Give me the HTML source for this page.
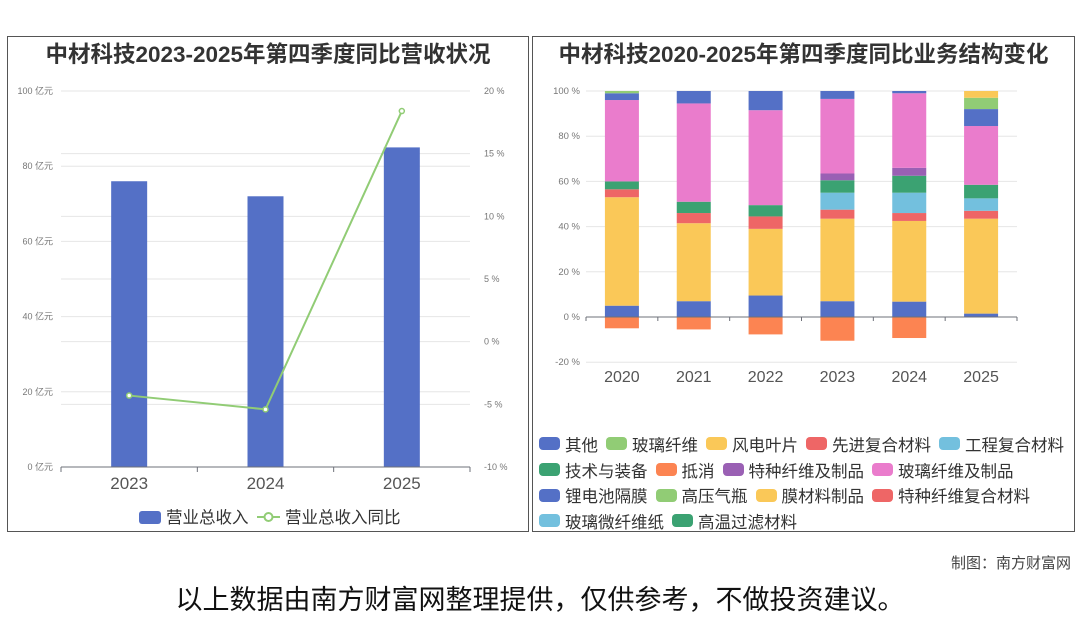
<!DOCTYPE html>
<html><head><meta charset="utf-8">
<style>
body{margin:0;width:1080px;height:614px;background:#fff;overflow:hidden;font-family:"Liberation Sans","Noto Sans CJK SC",sans-serif;}
.panel{position:absolute;border:1px solid #555;background:#fff;}
.title{position:absolute;left:0;right:0;top:0px;text-align:center;font-weight:bold;font-size:22.5px;color:#333;}
#legR{position:absolute;left:6px;top:394px;width:540px;display:flex;flex-wrap:wrap;font-size:16.5px;color:#333;}
.li{display:flex;align-items:center;height:25.7px;margin-right:8px;}
.sw{width:21px;height:13px;border-radius:4px;margin-right:5px;}
</style></head><body>
<div class="panel" style="left:7px;top:36px;width:520px;height:494px;">
<div class="title">中材科技2023-2025年第四季度同比营收状况</div>
</div>
<div class="panel" style="left:532px;top:36px;width:541px;height:494px;">
<div class="title">中材科技2020-2025年第四季度同比业务结构变化</div>
<div id="legR"></div>
</div>
<svg id="svg" width="1080" height="614" style="position:absolute;left:0;top:0"></svg>
<div style="position:absolute;right:9px;top:552px;font-size:15px;color:#444;">制图：南方财富网</div>
<div style="position:absolute;left:0;right:0;top:578px;text-align:center;font-size:27px;color:#111;">以上数据由南方财富网整理提供，仅供参考，不做投资建议。</div>
<script>
// Left chart data
const years1 = ['2023','2024','2025'];
const revenue = [76, 72, 85];
const yoy = [-4.3, -5.4, 18.4];
const leftTicks = [0,20,40,60,80,100];
const rightTicks = [-10,-5,0,5,10,15,20];
// Right chart data
const years2 = ['2020','2021','2022','2023','2024','2025'];
const segNames = ['其他','玻璃纤维','风电叶片','先进复合材料','工程复合材料','技术与装备','抵消','特种纤维及制品','玻璃纤维及制品','锂电池隔膜','高压气瓶','膜材料制品','特种纤维复合材料','玻璃微纤维纸','高温过滤材料'];
const segColors = ['#5470c6','#91cc75','#fac858','#ee6666','#73c0de','#3ba272','#fc8452','#9a60b4','#ea7ccc','#5470c6','#91cc75','#fac858','#ee6666','#73c0de','#3ba272'];
const sQita   = [5, 7, 9.5, 7, 6.8, 1.5];
const sBoxian = [0, 0, 0, 0, 0, 0];
const sFengdian=[48, 34.5, 29.5, 36.5, 35.7, 42];
const sXianjin= [3.5, 4.5, 5.5, 4, 3.5, 3.5];
const sGongcheng=[0, 0, 0, 7.5, 9, 5.5];
const sJishu  = [3.5, 5, 5, 5.5, 7.5, 6];
const sDixiao = [-5, -5.5, -7.7, -10.5, -9.3, 0];
const sTezhong= [0, 0, 0, 3, 3.5, 0];
const sBxzp   = [36, 43.5, 42, 33, 33, 26];
const sLidian = [3, 5.5, 8.5, 3.5, 1, 7.5];
const sGaoya  = [1, 0, 0, 0, 0, 5];
const sMocl   = [0, 0, 0, 0, 0, 3];
const sTzfh   = [0,0,0,0,0,0];
const sWxwz   = [0,0,0,0,0,0];
const sGwgl   = [0,0,0,0,0,0];
const segData = [sQita,sBoxian,sFengdian,sXianjin,sGongcheng,sJishu,sDixiao,sTezhong,sBxzp,sLidian,sGaoya,sMocl,sTzfh,sWxwz,sGwgl];
const rTicks = [-20,0,20,40,60,80,100];

const NS='http://www.w3.org/2000/svg';
const svg=document.getElementById('svg');
function mk(tag,attrs,parent){const e=document.createElementNS(NS,tag);for(const k in attrs)e.setAttribute(k,attrs[k]);(parent||svg).appendChild(e);return e;}
function txt(s,attrs){const t=mk('text',Object.assign({'font-family':'Liberation Sans, Noto Sans CJK SC, sans-serif'},attrs));t.textContent=s;return t;}

// ---- Left chart
const L={x0:61,x1:470,yTop:91,yBot:467};
const yL=v=>L.yBot-(v/100)*(L.yBot-L.yTop);
const yR=v=>L.yBot-((v+10)/30)*(L.yBot-L.yTop);
const bw=(L.x1-L.x0)/years1.length;
const xL=i=>L.x0+bw*(i+0.5);
rightTicks.forEach(t=>{const g=mk('line',{x1:L.x0,x2:L.x1,y1:yR(t),y2:yR(t),stroke:'#e6e6e6'});

const l=txt(t+' %',{x:484,y:yR(t)+3,'font-size':9,fill:'#777'});
});
leftTicks.forEach(t=>{const g=mk('line',{x1:L.x0,x2:L.x1,y1:yL(t),y2:yL(t),stroke:'#e6e6e6'});

const l=txt(t+' 亿元',{x:53,y:yL(t)+3,'font-size':9,fill:'#777','text-anchor':'end'});
});
revenue.forEach((v,i)=>{const r=mk('rect',{x:xL(i)-18,y:yL(v),width:36,height:yL(0)-yL(v),fill:'#5470c6'});

const l=txt(years1[i],{x:xL(i),y:489,'font-size':17,fill:'#555','text-anchor':'middle'});
});
const ax=mk('line',{x1:L.x0,x2:L.x1,y1:L.yBot,y2:L.yBot,stroke:'#6e7079'});

for(let i=0;i<=years1.length;i++){const tk=mk('line',{x1:L.x0+bw*i,x2:L.x0+bw*i,y1:L.yBot,y2:L.yBot+5,stroke:'#6e7079'});}
const pl=mk('polyline',{points:yoy.map((v,i)=>xL(i)+','+yR(v)).join(' '),fill:'none',stroke:'#91cc75','stroke-width':2});

yoy.forEach((v,i)=>{const c=mk('circle',{cx:xL(i),cy:yR(v),r:2.5,fill:'#fff',stroke:'#91cc75','stroke-width':1.5});
});
// left legend
const lg1=mk('rect',{x:139,y:511,width:22,height:13,rx:3,fill:'#5470c6'});

const lt1=txt('营业总收入',{x:166,y:523,'font-size':16.5,fill:'#333'});

const lg2=mk('line',{x1:257,x2:280,y1:517,y2:517,stroke:'#91cc75','stroke-width':2});

const lg3=mk('circle',{cx:268.5,cy:517,r:4,fill:'#fff',stroke:'#91cc75','stroke-width':2});

const lt2=txt('营业总收入同比',{x:285,y:523,'font-size':16.5,fill:'#333'});


// ---- Right chart
const R={x0:586,x1:1017,y0:317,y100:91};
const yS=v=>R.y0-v/100*(R.y0-R.y100);
const bw2=(R.x1-R.x0)/years2.length;
const xS=i=>R.x0+bw2*(i+0.5);
rTicks.forEach(t=>{const g=mk('line',{x1:R.x0,x2:R.x1,y1:yS(t),y2:yS(t),stroke:'#e6e6e6'});

const l=txt(t+' %',{x:580,y:yS(t)+3,'font-size':9.5,fill:'#777','text-anchor':'end'});
});
years2.forEach((y,i)=>{let pos=0,neg=0;
segData.forEach((arr,s)=>{const v=arr[i];if(!v)return;let a,b;
if(v>0){a=pos;b=pos+v;pos=b;}else{a=neg;b=neg+v;neg=b;}
const r=mk('rect',{x:xS(i)-17,y:Math.min(yS(a),yS(b)),width:34,height:Math.abs(yS(a)-yS(b)),fill:segColors[s]});
});
const l=txt(y,{x:xS(i),y:382,'font-size':16,fill:'#555','text-anchor':'middle'});
});
const ax2=mk('line',{x1:R.x0,x2:R.x1,y1:R.y0,y2:R.y0,stroke:'#6e7079'});

for(let i=0;i<=years2.length;i++){const tk=mk('line',{x1:R.x0+bw2*i,x2:R.x0+bw2*i,y1:R.y0,y2:R.y0+4,stroke:'#6e7079'});}
// right legend
const leg=document.getElementById('legR');
segNames.forEach((n,s)=>{const d=document.createElement('div');d.className='li';


d.innerHTML='<span class="sw" style="background:'+segColors[s]+'"></span><span>'+n+'</span>';leg.appendChild(d);});
</script>
</body></html>
